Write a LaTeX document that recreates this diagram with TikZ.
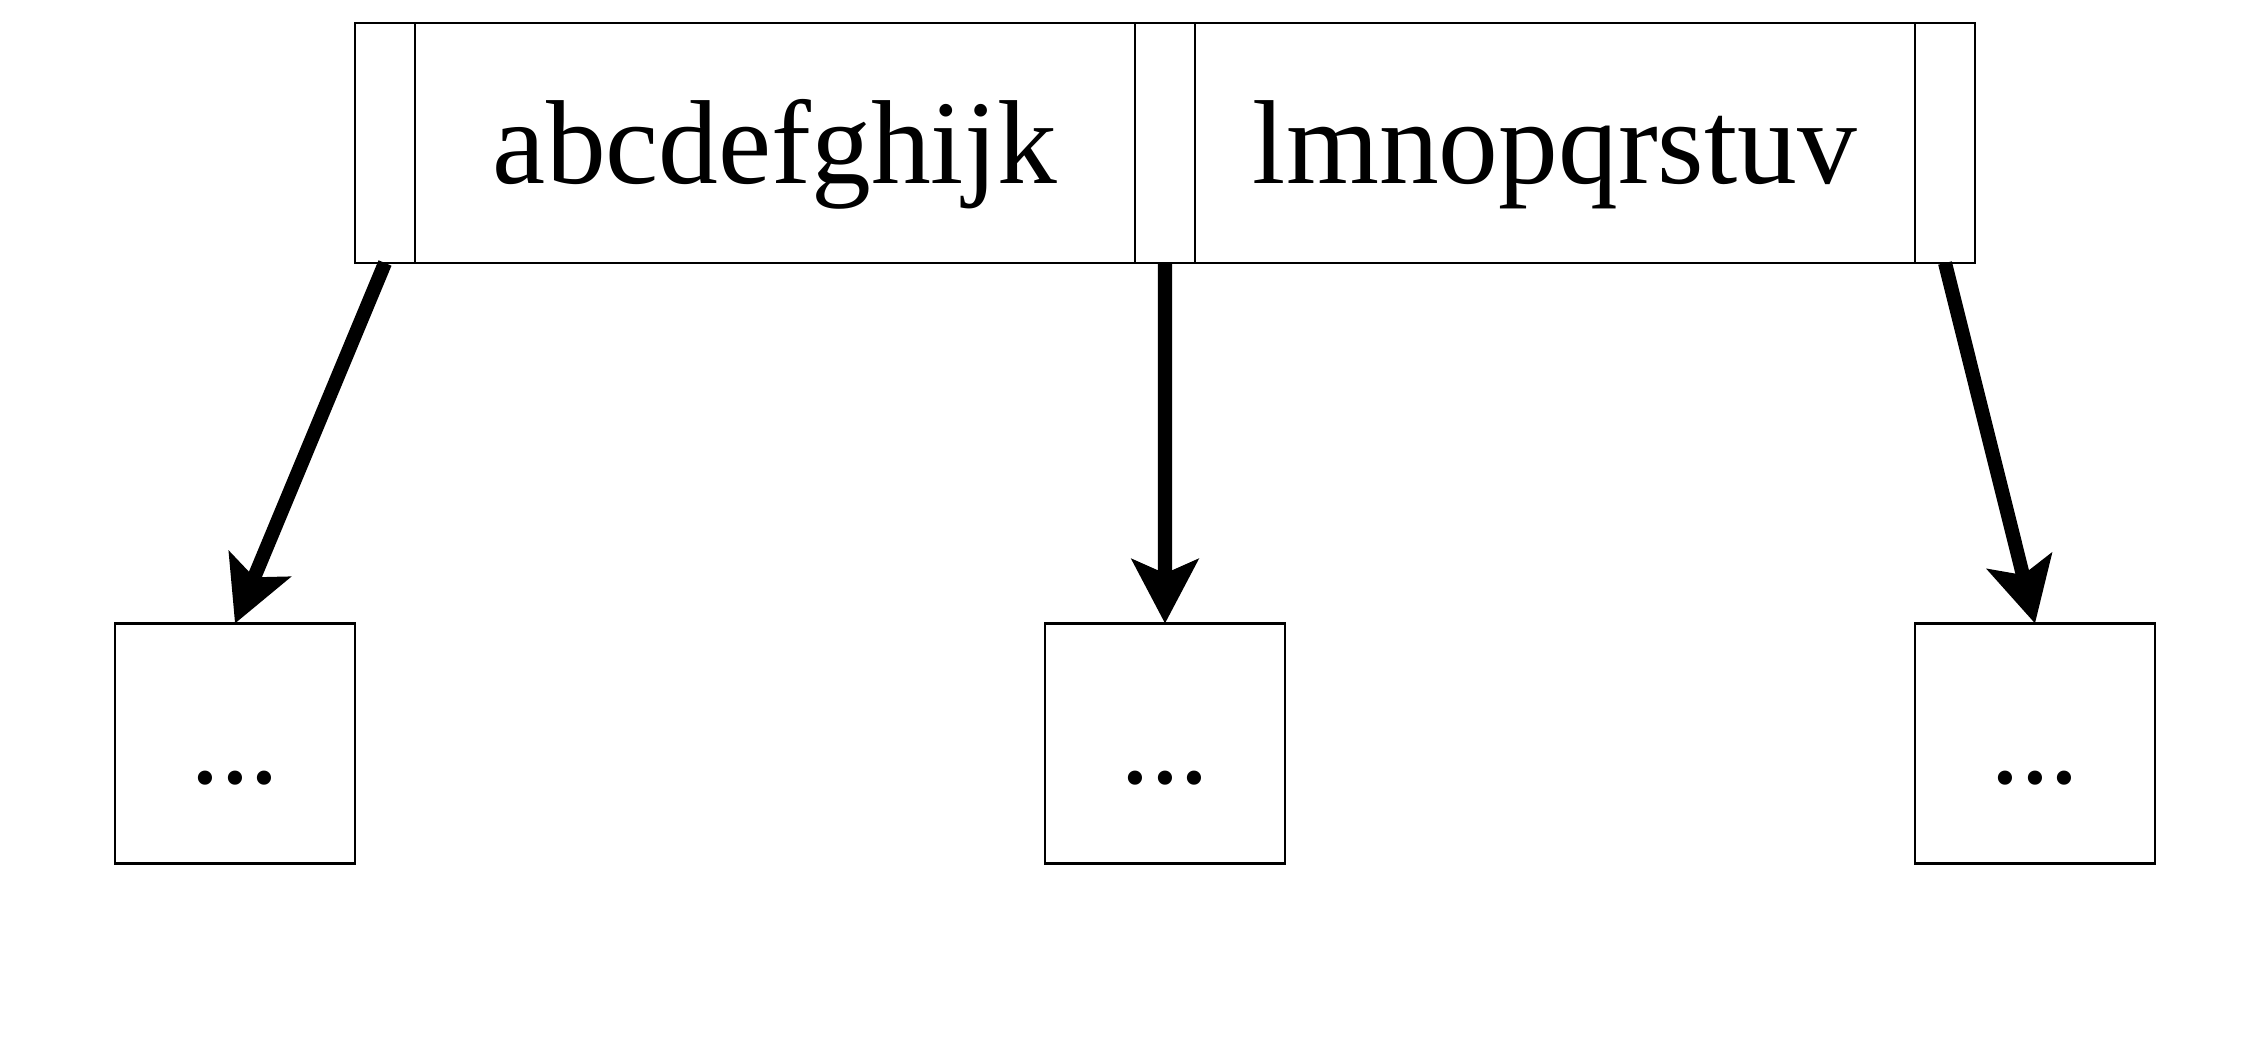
\documentclass[tikz,border=0pt]{standalone}
\usepackage{fontspec}
\setmainfont{Liberation Serif}
\usetikzlibrary{positioning,arrows.meta}
\tikzset{
  btcell/.style={draw, line width=0.6pt, minimum height=24mm, inner sep=0pt, outer sep=0pt,
    font=\fontsize{34}{40}\selectfont, text height=30.3pt, text depth=7.3pt},
  btptr/.style={btcell, minimum width=6mm},
  btkey/.style={btcell, minimum width=72mm},
  btchild/.style={btcell, minimum width=24mm},
  btlink/.style={line width=4pt, -{Stealth[length=6.4mm, width=6.6mm, inset=1.4mm]}}
}

\begin{document}
\begin{tikzpicture}
      \useasboundingbox (0,0) rectangle (22.64,10.36);
      % parent node
      \node[btptr] (p0) at (3.85,8.93) {};
      \node[btkey, right=0pt of p0] (k1) {abcdefghijk};
      \node[btptr, right=0pt of k1] (p1) {};
      \node[btkey, right=0pt of p1] (k2) {lmnopqrstuv};
      \node[btptr, right=0pt of k2] (p2) {};
      % children
      \node[btchild] (c0) at (2.35,2.925)  {...};
      \node[btchild] (c1) at (11.65,2.925) {...};
      \node[btchild] (c2) at (20.35,2.925) {...};
      \draw[btlink] (p0.south) -- (c0.north);
      \draw[btlink] (p1.south) -- (c1.north);
      \draw[btlink] (p2.south) -- (c2.north);
    \end{tikzpicture}
\end{document}
